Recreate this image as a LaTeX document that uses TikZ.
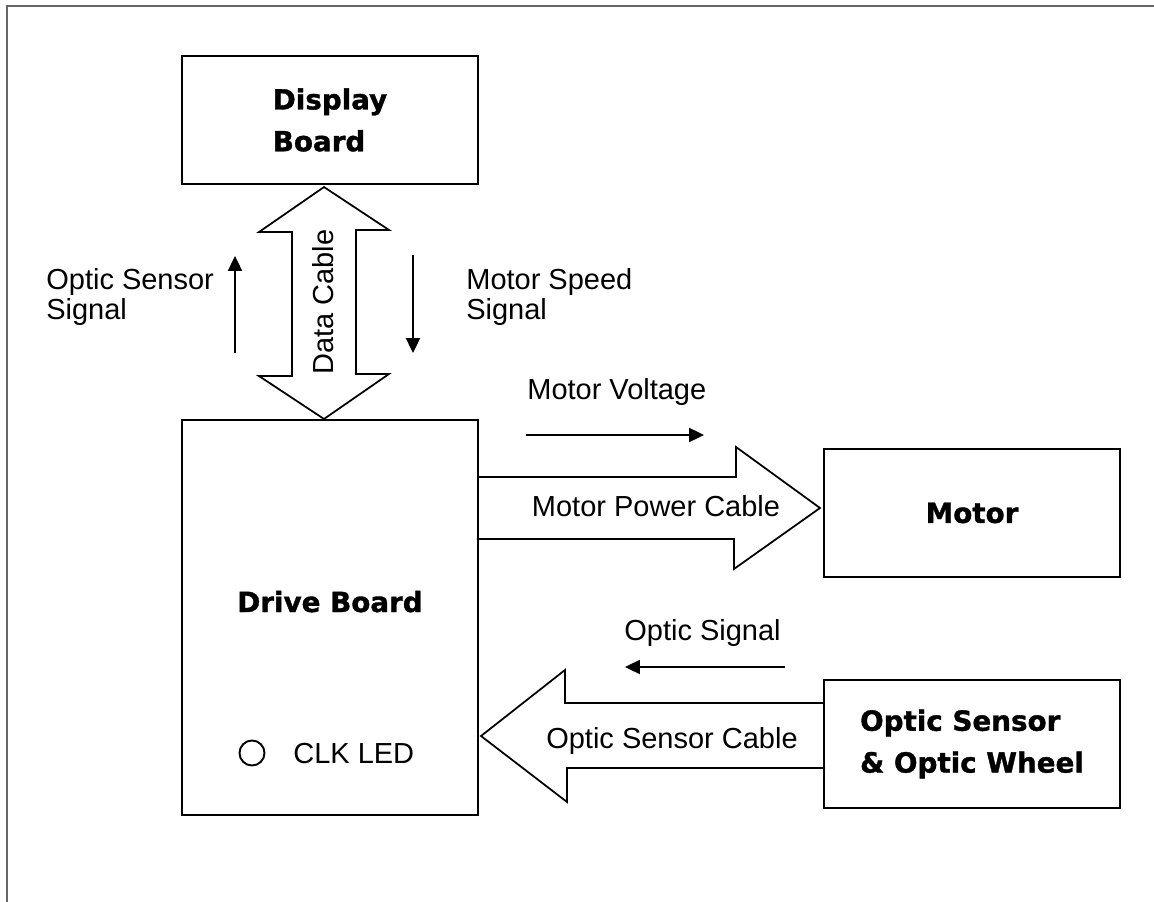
\documentclass[tikz,border=0pt]{standalone}
\usepackage{fontspec}
\setmainfont{Liberation Sans}
\newfontfamily\heavyfont{DejaVu Sans}[BoldFeatures={FakeBold=1.2}]
\usetikzlibrary{calc,arrows.meta}

\begin{document}
\begin{tikzpicture}[x=0.02cm,y=-0.02cm]
\tikzstyle{every node}+=[inner sep=0pt]
\tikzstyle{board}=[draw,line width=1.2pt,minimum width=5.92cm,minimum height=2.56cm,align=left,font=\heavyfont\bfseries\fontsize{15.8}{23.8}\selectfont]
\tikzstyle{cable}=[draw,line width=1pt,line join=miter]
\tikzstyle{signal}=[line width=1.1pt,-{Triangle[length=8.5pt,width=8pt]}]
\tikzstyle{lbl}=[font=\fontsize{16.5}{17.6}\selectfont,align=left]
\useasboundingbox (0,0) rectangle (1154,902);
\draw [black!60,line width=1.2pt] (7,902) -- (7,6) -- (1154,6);
\node [board] (display) at (330,120) {Display\\Board};
\node [board,minimum height=7.9cm] (drive) at (330,617.5) {};
\node [board] (motor) at (972,513) {Motor};
\node [board] (optic) at (972,744) {Optic Sensor\\\& Optic Wheel};
\node [font=\heavyfont\bfseries\fontsize{15.8}{23.8}\selectfont,anchor=base] (drivelbl) at (330,612) {Drive Board};
\node [draw,circle,line width=1.1pt,minimum size=0.5cm] (clk) at (252,753) {};
\node [lbl,anchor=base west] (clklbl) at (293,763) {CLK LED};
\draw [cable] ($(display.south)+(-6,2)$) -- ++(-65,45) -- ++(33,0) -- ++(0,144) -- ++(-33,0) -- ($(drive.north)+(-6,0)$) -- ++(65,-45) -- ++(-33,0) -- ++(0,-144) -- ++(33,0) -- cycle;
\node [lbl,rotate=90] (dclbl) at (323,302) {Data Cable};
\coordinate (pwrtip) at ($(motor.west)+(-3,-5)$);
\draw [cable] ($(drive.east |- pwrtip)+(0,-31)$) -- ++(257,0) -- ++(0,-30) -- (pwrtip) -- ++(-86,61) -- ++(0,-30) -- ++(-257,0);
\node [lbl,anchor=base] (mpclbl) at (656,517) {Motor Power Cable};
\coordinate (senstip) at ($(drive.east |- optic.west)+(2,-8)$);
\draw [cable] ($(optic.west)+(0,-41)$) -- ++(-258,0) -- ++(0,-33) -- (senstip) -- ++(86,66) -- ++(0,-34) -- ++(258,0);
\node [lbl,anchor=base] (osclbl) at (672,748) {Optic Sensor Cable};
\coordinate (oss1) at (235,353);
\coordinate (oss2) at (235,256);
\draw [signal] (oss1) -- (oss2);
\node [lbl,anchor=west] (osslbl) at (46,297) {Optic Sensor\\Signal};
\coordinate (mss1) at (413,255);
\coordinate (mss2) at (413,353);
\draw [signal] (mss1) -- (mss2);
\node [lbl,anchor=west] (msslbl) at (466,297) {Motor Speed\\Signal};
\coordinate (mv1) at (526,435);
\coordinate (mv2) at (704,435);
\draw [signal] (mv1) -- (mv2);
\node [lbl,anchor=base west] (mvlbl) at (527,399) {Motor Voltage};
\coordinate (os1) at (785,667);
\coordinate (os2) at (625,667);
\draw [signal] (os1) -- (os2);
\node [lbl,anchor=base west] (oslbl) at (624,640) {Optic Signal};
\end{tikzpicture}
\end{document}
